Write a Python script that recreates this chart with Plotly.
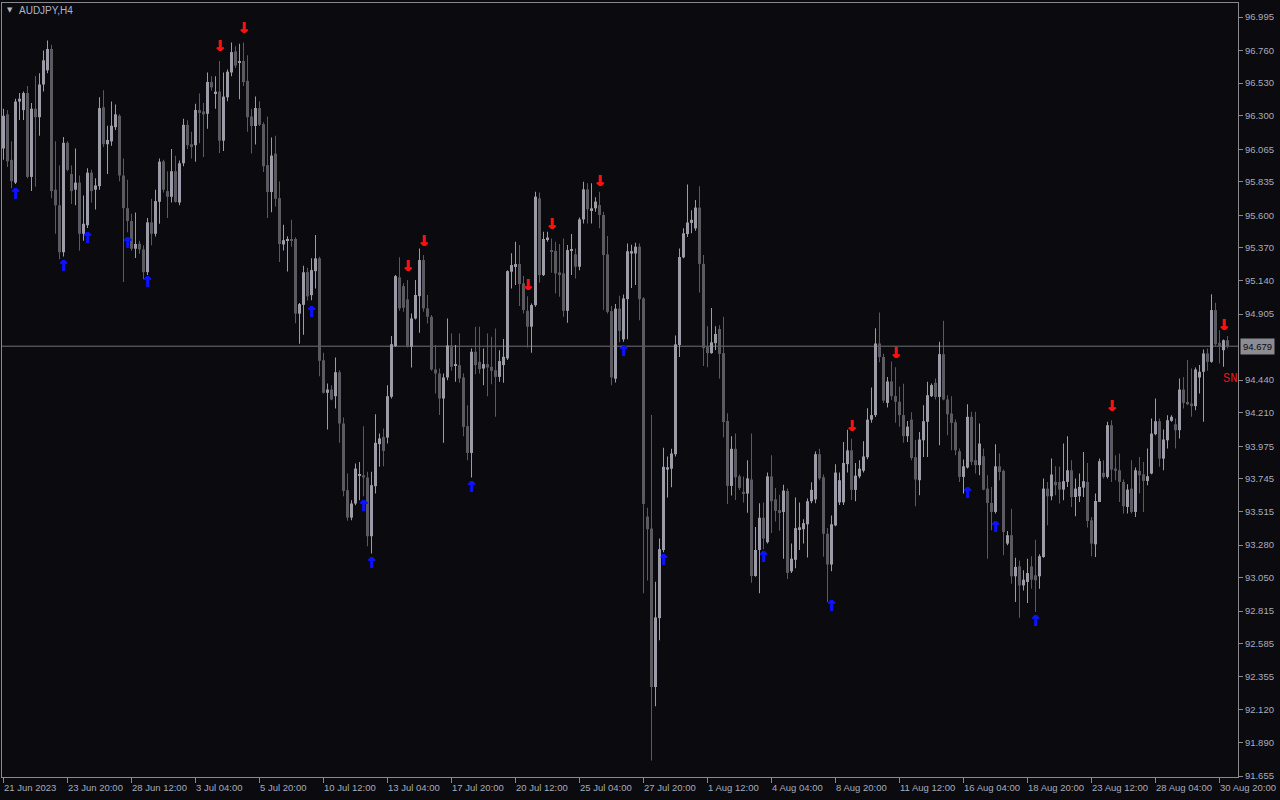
import plotly.graph_objects as go

# ---------------- data (AUDJPY, H4) ----------------
opens = [
96.07, 96.31, 95.99, 95.83, 96.40, 96.34, 96.46, 95.87, 96.35, 96.29,
96.52, 96.62, 96.77, 95.78, 95.67, 95.34, 96.11, 95.89, 95.78, 95.83,
95.47, 95.53, 95.90, 95.78, 95.805, 96.36, 96.10, 96.12, 96.22, 96.30,
95.88, 95.65, 95.56, 95.365, 95.40, 95.36, 95.20, 95.55, 95.47, 95.695,
95.98, 95.77, 95.73, 95.91, 95.69, 95.966, 96.236, 96.10, 96.093, 96.34,
96.33, 96.314, 96.537, 96.46, 96.47, 96.125, 96.43, 96.605, 96.753, 96.672,
96.686, 96.546, 96.295, 96.228, 96.354, 96.241, 95.953, 95.764, 96.034, 95.721,
95.395, 95.42, 95.433, 95.433, 94.908, 94.97, 95.20, 95.038, 95.207, 95.297,
94.58, 94.351, 94.374, 94.327, 94.496, 94.135, 93.666, 93.473, 93.572, 93.771,
93.771, 93.755, 93.342, 93.694, 93.99, 94.041, 94.036, 94.323, 94.679, 95.163,
95.102, 95.008, 94.675, 94.874, 95.031, 95.285, 94.945, 94.886, 94.515, 94.487,
94.311, 94.459, 94.684, 94.545, 94.545, 94.459, 94.116, 93.928, 94.64, 94.569,
94.522, 94.553, 94.534, 94.51, 94.463, 94.546, 94.593, 95.203, 95.243, 95.257,
95.121, 94.928, 94.816, 94.968, 95.719, 95.179, 95.426, 95.355, 95.35, 95.198,
95.191, 94.928, 95.351, 95.325, 95.238, 95.571, 95.782, 95.637, 95.649, 95.672,
95.602, 95.325, 94.926, 94.45, 94.943, 94.727, 95.01, 95.331, 95.331, 95.379,
95.015, 93.48, 93.396, 92.281, 92.766, 93.245, 93.811, 93.817, 93.919, 94.687,
95.304, 95.468, 95.546, 95.508, 95.654, 95.258, 94.673, 94.63, 94.70, 94.80,
94.63, 94.153, 93.696, 93.957, 93.763, 93.655, 93.642, 93.741, 93.062, 93.245,
93.472, 93.30, 93.763, 93.601, 93.526, 93.512, 93.66, 93.095, 93.176, 93.391,
93.391, 93.426, 93.588, 93.601, 93.919, 93.757, 93.359, 93.143, 93.418, 93.58,
93.58, 93.849, 93.946, 93.668, 93.763, 93.803, 93.898, 94.162, 94.194, 94.698,
94.603, 94.28, 94.431, 94.328, 94.288, 94.194, 94.046, 94.162, 93.898, 93.736,
94.017, 94.147, 94.327, 94.421, 94.322, 94.623, 94.304, 94.205, 94.144, 93.94,
93.759, 93.825, 94.182, 93.877, 93.842, 93.905, 93.677, 93.576, 93.513, 93.834,
93.802, 93.29, 93.349, 93.06, 93.13, 92.996, 93.02, 93.13, 93.067, 93.06,
93.196, 93.677, 93.623, 93.724, 93.724, 93.67, 93.724, 93.806, 93.618, 93.623,
93.684, 93.724, 93.454, 93.285, 93.583, 93.788, 93.759, 94.123, 93.818, 93.806,
93.724, 93.548, 93.677, 93.513, 93.802, 93.778, 93.731, 93.783, 94.06, 94.151,
93.888, 94.017, 94.154, 94.13, 94.088, 94.374, 94.287, 94.276, 94.257, 94.459,
94.499, 94.628, 94.569, 94.933, 94.703, 94.651, 94.721,
]

highs = [
96.35, 96.34, 96.12, 96.42, 96.46, 96.47, 96.51, 96.39, 96.58, 96.60,
96.76, 96.83, 96.80, 96.12, 95.95, 96.15, 96.12, 95.95, 96.07, 95.88,
95.74, 95.93, 95.92, 95.86, 96.43, 96.48, 96.23, 96.40, 96.38, 96.31,
96.00, 95.85, 95.61, 95.62, 95.42, 95.39, 95.58, 95.716, 95.78, 96.00,
95.99, 95.91, 96.066, 96.018, 95.985, 96.28, 96.268, 96.187, 96.384, 96.457,
96.39, 96.605, 96.578, 96.578, 96.686, 96.605, 96.626, 96.815, 96.79, 96.807,
96.815, 96.726, 96.349, 96.435, 96.403, 96.255, 96.295, 96.147, 96.16, 95.837,
95.533, 95.452, 95.568, 95.446, 94.983, 95.245, 95.23, 95.297, 95.461, 95.308,
94.632, 94.417, 94.405, 94.60, 94.51, 94.177, 93.783, 93.595, 93.853, 93.865,
94.116, 93.795, 93.795, 94.20, 94.065, 94.10, 94.405, 94.75, 95.179, 95.304,
95.121, 95.144, 94.909, 95.144, 95.367, 95.32, 95.039, 94.898, 94.687, 94.522,
94.487, 94.874, 94.769, 94.687, 94.769, 94.487, 94.264, 94.663, 94.816, 94.816,
94.663, 94.769, 94.745, 94.804, 94.651, 94.729, 95.214, 95.332, 95.414, 95.391,
95.172, 95.03, 94.98, 95.766, 95.761, 95.484, 95.484, 95.437, 95.414, 95.398,
95.437, 95.391, 95.468, 95.367, 95.585, 95.836, 95.825, 95.825, 95.726, 95.766,
95.625, 95.454, 94.962, 94.975, 95.034, 95.042, 95.401, 95.393, 95.406, 95.401,
95.024, 93.542, 94.194, 93.022, 93.326, 93.965, 93.903, 93.957, 94.754, 95.366,
95.508, 95.816, 95.635, 95.708, 95.805, 95.32, 94.819, 94.948, 94.819, 94.827,
94.886, 94.207, 94.046, 94.065, 93.776, 93.763, 93.876, 94.065, 93.407, 93.574,
93.58, 93.79, 93.911, 93.682, 93.633, 93.704, 93.677, 93.291, 93.615, 93.58,
93.461, 93.607, 93.722, 93.938, 93.957, 93.776, 93.399, 93.488, 93.849, 93.79,
94.005, 94.091, 94.027, 93.857, 93.876, 94.011, 94.242, 94.388, 94.805, 94.916,
94.625, 94.463, 94.571, 94.531, 94.396, 94.415, 94.153, 94.215, 94.019, 94.076,
94.264, 94.428, 94.416, 94.452, 94.71, 94.858, 94.334, 94.327, 94.163, 93.959,
93.881, 94.271, 94.217, 94.217, 94.135, 93.959, 93.771, 93.689, 93.989, 93.924,
93.811, 93.379, 93.536, 93.191, 93.172, 93.102, 93.184, 93.201, 93.318, 93.215,
93.748, 93.724, 93.888, 93.834, 93.83, 93.994, 94.046, 93.877, 93.748, 93.783,
93.935, 93.858, 93.478, 93.642, 93.888, 93.877, 94.147, 94.158, 93.912, 93.924,
93.741, 93.708, 93.877, 93.825, 93.90, 93.865, 93.959, 94.17, 94.311, 94.17,
94.093, 94.193, 94.193, 94.17, 94.452, 94.463, 94.581, 94.522, 94.529, 94.546,
94.656, 94.663, 95.045, 94.984, 94.792, 94.726, 94.75,
]

lows = [
95.99, 95.94, 95.79, 95.82, 96.27, 96.27, 95.86, 95.77, 95.80, 96.16,
96.47, 96.60, 95.72, 95.47, 95.29, 95.31, 95.91, 95.68, 95.67, 95.35,
95.42, 95.51, 95.69, 95.64, 95.78, 96.08, 95.89, 96.09, 96.20, 95.84,
95.13, 95.48, 95.35, 95.30, 95.33, 95.15, 95.18, 95.39, 95.45, 95.54,
95.76, 95.58, 95.69, 95.69, 95.67, 95.945, 96.066, 96.00, 95.977, 96.107,
96.01, 96.209, 96.476, 96.349, 96.039, 96.053, 96.403, 96.578, 96.637, 96.416,
96.51, 96.187, 96.034, 96.098, 96.228, 95.904, 95.581, 95.622, 95.662, 95.271,
95.352, 95.204, 95.379, 94.84, 94.697, 94.759, 95.00, 95.003, 95.085, 94.468,
94.346, 94.093, 94.299, 94.24, 93.999, 93.623, 93.45, 93.454, 93.56, 93.595,
93.623, 93.271, 93.22, 93.642, 93.83, 93.835, 93.994, 94.311, 94.675, 94.928,
94.921, 94.67, 94.529, 94.867, 94.773, 94.921, 94.839, 94.506, 94.346, 94.194,
93.999, 94.44, 94.506, 94.428, 94.421, 94.046, 93.877, 93.755, 94.482, 94.487,
94.405, 94.327, 94.412, 94.182, 94.428, 94.421, 94.581, 95.085, 95.109, 94.961,
94.909, 94.67, 94.632, 94.956, 95.125, 95.172, 95.414, 95.196, 95.05, 95.027,
94.886, 94.844, 95.179, 95.156, 95.214, 95.543, 95.543, 95.543, 95.625, 95.508,
94.933, 94.909, 94.405, 94.423, 94.706, 94.711, 94.727, 95.088, 95.11, 94.862,
92.941, 93.03, 91.764, 92.146, 92.61, 93.229, 93.615, 93.687, 93.903, 94.603,
95.298, 95.447, 95.473, 95.492, 95.056, 94.539, 94.531, 94.625, 94.652, 94.45,
94.038, 93.569, 93.628, 93.596, 93.668, 93.58, 93.507, 93.014, 93.057, 92.941,
93.251, 93.291, 93.364, 93.445, 93.38, 93.184, 93.041, 93.084, 93.116, 93.245,
93.291, 93.192, 93.574, 93.574, 93.736, 93.197, 92.879, 93.095, 93.413, 93.561,
93.561, 93.79, 93.596, 93.588, 93.749, 93.79, 93.884, 94.14, 94.18, 94.566,
94.28, 94.248, 94.302, 94.14, 94.113, 94.0, 94.005, 93.876, 93.553, 93.63,
93.90, 93.90, 94.322, 94.304, 93.982, 94.299, 94.053, 93.947, 93.912, 93.724,
93.642, 93.818, 93.842, 93.783, 93.771, 93.665, 93.184, 93.384, 93.501, 93.736,
93.208, 93.278, 93.008, 92.879, 92.769, 92.961, 92.872, 92.973, 92.809, 92.973,
93.191, 93.419, 93.595, 93.63, 93.572, 93.595, 93.689, 93.548, 93.482, 93.583,
93.618, 93.403, 93.201, 93.196, 93.583, 93.748, 93.748, 93.724, 93.736, 93.583,
93.501, 93.501, 93.501, 93.478, 93.642, 93.513, 93.701, 93.778, 94.053, 93.83,
93.806, 93.959, 94.147, 93.959, 94.029, 94.24, 94.264, 94.182, 94.229, 94.346,
94.147, 94.506, 94.562, 94.679, 94.557, 94.534, 94.663,
]

closes = [
96.30, 95.98, 95.84, 96.40, 96.42, 96.46, 95.87, 96.35, 96.29, 96.52,
96.69, 96.77, 95.77, 95.67, 95.34, 96.11, 95.92, 95.77, 95.83, 95.47,
95.54, 95.90, 95.77, 95.81, 96.354, 96.10, 96.13, 96.23, 96.31, 95.88,
95.65, 95.56, 95.365, 95.398, 95.36, 95.20, 95.55, 95.47, 95.70, 95.977,
95.78, 95.73, 95.91, 95.694, 95.966, 96.236, 96.093, 96.08, 96.341, 96.32,
96.31, 96.538, 96.50, 96.47, 96.125, 96.435, 96.61, 96.748, 96.653, 96.685,
96.537, 96.29, 96.228, 96.354, 96.236, 95.945, 95.764, 96.02, 95.716, 95.398,
95.425, 95.43, 95.425, 94.908, 94.975, 95.199, 95.03, 95.214, 95.297, 94.576,
94.351, 94.374, 94.304, 94.496, 94.135, 93.661, 93.473, 93.572, 93.818, 93.778,
93.755, 93.342, 93.701, 93.999, 94.03, 93.942, 94.327, 94.693, 95.172, 94.945,
94.949, 94.675, 94.874, 95.039, 95.285, 94.945, 94.886, 94.515, 94.487, 94.311,
94.459, 94.684, 94.534, 94.55, 94.452, 94.111, 93.928, 94.64, 94.546, 94.517,
94.553, 94.529, 94.506, 94.463, 94.574, 94.604, 95.207, 95.25, 95.257, 95.116,
94.933, 94.816, 94.968, 95.731, 95.179, 95.433, 95.444, 95.344, 95.191, 95.186,
94.928, 95.355, 95.36, 95.238, 95.571, 95.782, 95.642, 95.649, 95.696, 95.602,
95.32, 94.921, 94.459, 94.943, 94.787, 95.015, 95.347, 95.347, 95.379, 95.01,
93.569, 93.391, 92.281, 92.771, 93.251, 93.83, 93.827, 93.924, 94.692, 95.306,
95.473, 95.549, 95.568, 95.654, 95.258, 94.665, 94.63, 94.706, 94.765, 94.625,
94.145, 93.696, 93.957, 93.757, 93.682, 93.642, 93.749, 93.062, 93.245, 93.472,
93.326, 93.763, 93.588, 93.52, 93.512, 93.663, 93.084, 93.184, 93.399, 93.405,
93.434, 93.588, 93.668, 93.919, 93.749, 93.359, 93.143, 93.426, 93.79, 93.736,
93.857, 93.946, 93.668, 93.768, 93.817, 93.903, 94.162, 94.194, 94.698, 94.603,
94.296, 94.431, 94.328, 94.288, 94.194, 94.046, 94.113, 93.892, 93.741, 94.022,
94.151, 94.334, 94.405, 94.322, 94.623, 94.304, 94.20, 94.139, 93.947, 93.759,
93.834, 94.182, 93.865, 93.842, 93.994, 93.67, 93.576, 93.513, 93.834, 93.794,
93.372, 93.349, 93.06, 93.126, 92.996, 93.036, 93.083, 93.036, 93.032, 93.201,
93.677, 93.623, 93.776, 93.701, 93.67, 93.729, 93.806, 93.618, 93.677, 93.689,
93.729, 93.449, 93.29, 93.59, 93.87, 93.759, 94.123, 93.811, 93.802, 93.724,
93.553, 93.67, 93.513, 93.806, 93.771, 93.731, 93.764, 94.064, 94.151, 93.888,
94.022, 94.158, 94.182, 94.088, 94.374, 94.28, 94.271, 94.257, 94.515, 94.499,
94.628, 94.569, 94.933, 94.693, 94.679, 94.721, 94.679,
]

# signal arrows (bar index, price)
buy_idx = [3, 15, 21, 31, 36, 77, 90, 92, 117, 155, 165, 190, 207, 241, 248, 258]
buy_price = [95.742, 95.232, 95.432, 95.393, 95.123, 94.914, 93.544, 93.142,
             93.677, 94.633, 93.166, 93.189, 92.839, 93.635, 93.40, 92.734]
sell_idx = [54, 60, 101, 105, 131, 137, 149, 212, 223, 277, 305]
sell_price = [96.781, 96.907, 95.237, 95.413, 95.098, 95.531, 95.831,
              94.109, 94.625, 94.252, 94.82]

# axis ticks
date_tick_idx = list(range(0, 305, 16))
date_tick_text = ["21 Jun 2023", "23 Jun 20:00", "28 Jun 12:00", "3 Jul 04:00",
                  "5 Jul 20:00", "10 Jul 12:00", "13 Jul 04:00", "17 Jul 20:00",
                  "20 Jul 12:00", "25 Jul 04:00", "27 Jul 20:00", "1 Aug 12:00",
                  "4 Aug 04:00", "8 Aug 20:00", "11 Aug 12:00", "16 Aug 04:00",
                  "18 Aug 20:00", "23 Aug 12:00", "28 Aug 04:00", "30 Aug 20:00"]
price_ticks = [96.995, 96.760, 96.530, 96.300, 96.065, 95.835, 95.600, 95.370,
               95.140, 94.905, 94.440, 94.210, 93.975, 93.745, 93.515, 93.280,
               93.050, 92.815, 92.585, 92.355, 92.120, 91.890, 91.655]
current_price = 94.679
symbol_label = "AUDJPY,H4"

# ---------------- styling ----------------
BG = "#0a0a0f"
BULL = "#9c9ca8"
BEAR = "#5a5a60"
AXIS = "#8a8a8e"
TXT = "#a8acbc"
FONT = "Liberation Sans"
BLUE = "#0a14ff"
RED = "#ff1010"

n = len(opens)
idx = list(range(n))
bull_i = [i for i in idx if closes[i] >= opens[i]]
bear_i = [i for i in idx if closes[i] < opens[i]]

fig = go.Figure()


def add_candles(sel, color):
    fig.add_trace(go.Bar(
        x=sel, base=[lows[i] for i in sel],
        y=[highs[i] - lows[i] for i in sel],
        width=0.25, marker=dict(color=color, line=dict(width=0)),
        hoverinfo="skip", showlegend=False))
    fig.add_trace(go.Bar(
        x=sel, base=[min(opens[i], closes[i]) for i in sel],
        y=[max(abs(closes[i] - opens[i]), 0.006) for i in sel],
        width=0.75, marker=dict(color=color, line=dict(width=0)),
        hoverinfo="skip", showlegend=False))


add_candles(bear_i, BEAR)
add_candles(bull_i, BULL)


def add_arrows(xs, ys, glyph, color):
    fig.add_trace(go.Scatter(
        x=xs, y=ys, mode="text", text=[glyph] * len(xs),
        textposition="middle center",
        textfont=dict(family="DejaVu Sans", size=15, color=color, weight="bold",
                      shadow=f"1px 0px 0px {color}, 0.5px 0px 0px {color}"),
        hoverinfo="skip", showlegend=False, cliponaxis=False))


add_arrows(buy_idx, buy_price, "↑", BLUE)
add_arrows(sell_idx, sell_price, "↓", RED)

annotations = []
for t, lab in zip(date_tick_idx, date_tick_text):
    annotations.append(dict(
        x=t, y=0, xref="x", yref="paper", text=lab, showarrow=False,
        xanchor="left", yanchor="top", xshift=-2, yshift=-3,
        font=dict(family=FONT, size=9.5, color=TXT)))

annotations.append(dict(
    x=1, y=current_price, xref="paper", yref="y", text=f"{current_price:.3f}",
    showarrow=False, xanchor="left", yanchor="middle", xshift=2,
    bgcolor="#8c8c94", borderpad=2,
    font=dict(family=FONT, size=9.5, color="#0a0a0f")))
annotations.append(dict(
    x=1, y=94.447, xref="paper", yref="y", text="SN", showarrow=False,
    xanchor="right", yanchor="middle", xshift=1,
    font=dict(family="Liberation Mono", size=12, color="#e8141a")))
annotations.append(dict(
    x=0, y=1, xref="paper", yref="paper", text="▼", showarrow=False,
    xanchor="left", yanchor="middle", xshift=3, yshift=-7,
    font=dict(family="DejaVu Sans", size=7, color="#b8b8bc")))
annotations.append(dict(
    x=0, y=1, xref="paper", yref="paper", text=symbol_label, showarrow=False,
    xanchor="left", yanchor="middle", xshift=15, yshift=-7,
    font=dict(family=FONT, size=10, color="#b0b4c4")))

fig.update_layout(
    width=1280, height=800,
    margin=dict(l=2, r=42, t=3, b=23, pad=0),
    paper_bgcolor=BG, plot_bgcolor=BG,
    barmode="overlay", showlegend=False,
    annotations=annotations,
    shapes=[dict(type="line", xref="paper", x0=0, x1=1, yref="y",
                 y0=current_price, y1=current_price,
                 line=dict(color="#707078", width=1), layer="below")],
    xaxis=dict(range=[-0.375, 308.625], tickvals=date_tick_idx,
               showticklabels=False, ticks="outside", ticklen=5,
               tickcolor=AXIS, tickwidth=1, showgrid=False, zeroline=False,
               showline=True, linecolor=AXIS, linewidth=1, mirror=True,
               fixedrange=True),
    yaxis=dict(range=[91.648, 97.0935], side="right", tickvals=price_ticks,
               ticktext=[f"{v:.3f}" for v in price_ticks],
               ticks="outside", ticklen=4, tickcolor=AXIS, tickwidth=1,
               tickfont=dict(family=FONT, size=9.5, color=TXT),
               showgrid=False, zeroline=False, showline=True,
               linecolor=AXIS, linewidth=1, mirror=True, fixedrange=True),
)

fig.write_html("out.html", config={"displayModeBar": False},
               post_script="document.body.style.margin='0';document.body.style.overflow='hidden';")
